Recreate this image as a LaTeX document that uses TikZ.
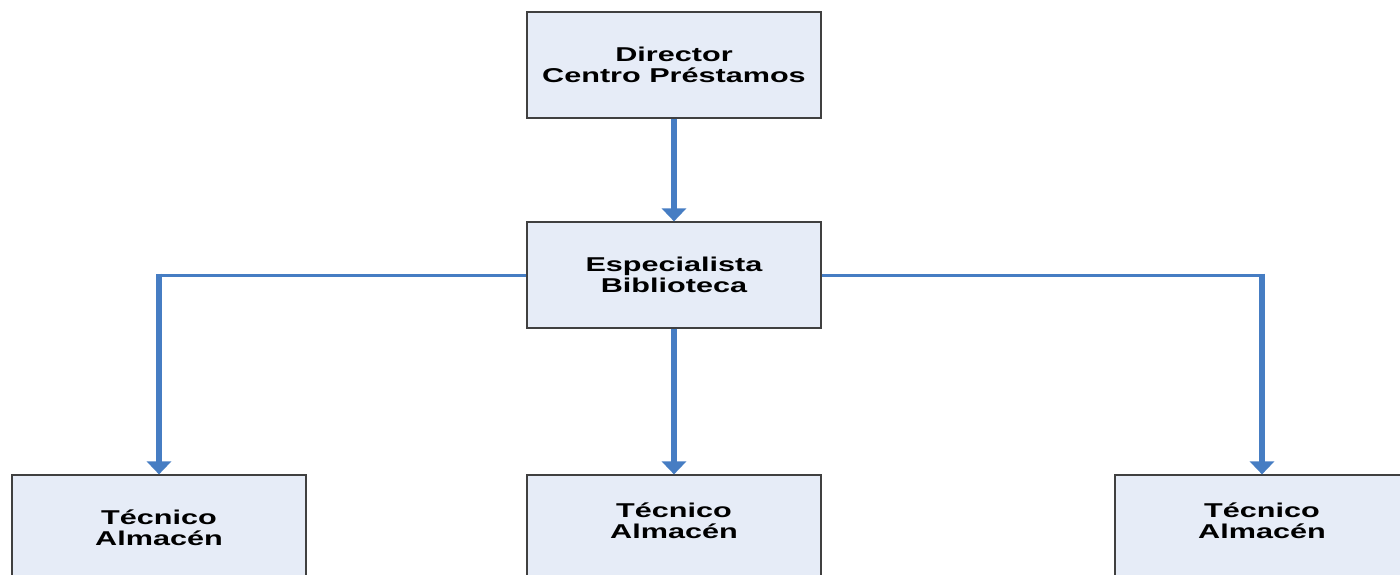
\documentclass[tikz,border=0pt]{standalone}
\usepackage{fontspec}
\newfontfamily\orgfont[FakeStretch=1.53]{Liberation Sans}
\usetikzlibrary{positioning,arrows.meta}
\definecolor{azul}{RGB}{70,125,195}
\definecolor{relleno}{RGB}{230,236,247}
\definecolor{borde}{RGB}{64,64,64}

\begin{document}
\begin{tikzpicture}[x=1pt,y=-1pt,
% Box style
		cargo/.style={rectangle
							    , fill=relleno
							    , draw=borde, line width=1.2pt
							    , minimum width=294pt
							    , minimum height=106pt
							    , inner sep=0pt
							    , align=center
							    , font=\orgfont\bfseries\fontsize{20}{21}\selectfont},
		arriba/.style={text depth=14pt},
% Connector styles
		linea/.style={draw=azul, line width=3pt},
		flecha/.style={draw=azul, line width=5.5pt
							    , -{Triangle[width=24pt,length=13pt]}},
		rama/.style={flecha, shorten <=-1.5pt}
	]
	\useasboundingbox (0,0) rectangle (1400,575);
%% Boxes
	\node [cargo] (dir) at (674,65)  {Director\\Centro Préstamos};
	\node [cargo] (esp) at (674,275) {Especialista\\Biblioteca};
	\node [cargo] (tec1) at (159,528)  {Técnico\\Almacén};
	\node [cargo, arriba] (tec2) at (674,528)  {Técnico\\Almacén};
	\node [cargo, arriba] (tec3) at (1262,528) {Técnico\\Almacén};
%% Connectors
	\draw [flecha] (dir.south) -- (esp.north);
	\coordinate (k1) at (tec1.north |- esp.west);
	\coordinate (k3) at (tec3.north |- esp.east);
	\draw [linea] (esp.west) -- (k1);
	\draw [linea] (esp.east) -- (k3);
	\draw [rama] (k1) -- (tec1.north);
	\draw [flecha] (esp.south) -- (tec2.north);
	\draw [rama] (k3) -- (tec3.north);
\end{tikzpicture}
\end{document}
